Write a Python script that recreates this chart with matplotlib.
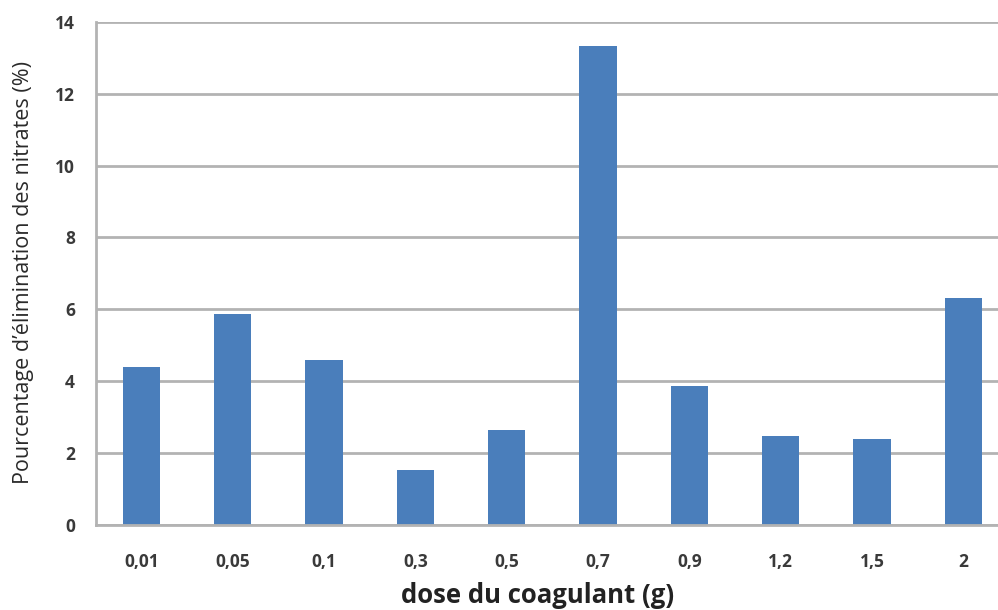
import matplotlib
matplotlib.use("Agg")
import matplotlib.pyplot as plt
import numpy as np

# dose du coagulant (g) and nitrate removal (%)
doses = ['0,01', '0,05', '0,1', '0,3', '0,5', '0,7', '0,9', '1,2', '1,5', '2']
elimination = [4.39, 5.87, 4.58, 1.52, 2.63, 13.33, 3.88, 2.49, 2.40, 6.31]
yticks = [0, 2, 4, 6, 8, 10, 12, 14]

plt.rcParams['font.family'] = ['Open Sans', 'DejaVu Sans']

fig = plt.figure(figsize=(9.98, 6.10), dpi=100)
ax = fig.add_axes([0.0959, 0.1393, 0.9041, 0.8251])

x = np.arange(len(doses))
ax.bar(x, elimination, width=0.41, color='#4a7ebb', zorder=3)

ax.set_ylim(0, 14)
ax.set_xlim(-0.5, 9.38)
ax.set_yticks(yticks)
ax.set_yticklabels([str(v) for v in yticks])
ax.set_xticks(x)
ax.set_xticklabels(doses)

ax.grid(axis='y', color='#b3b3b3', linewidth=2, zorder=0)
for side in ['top', 'right']:
    ax.spines[side].set_visible(False)
for side in ['left', 'bottom']:
    ax.spines[side].set_color('#b3b3b3')
    ax.spines[side].set_linewidth(2)
    ax.spines[side].set_zorder(4)

ax.tick_params(axis='both', length=0, labelsize=12.5, labelcolor='#3a3a3a')
ax.tick_params(axis='y', pad=15)
ax.tick_params(axis='x', pad=20)
for lab in ax.get_xticklabels() + ax.get_yticklabels():
    lab.set_fontweight('bold')

ax.set_xlabel('dose du coagulant (g)', fontsize=18.5, fontweight='bold',
              color='#222222')
ax.xaxis.set_label_coords(0.49, -0.113)
ax.set_ylabel("Pourcentage d\u2019élimination des nitrates (%)", fontsize=15.5,
              color='#2a2a2a')
ax.yaxis.set_label_coords(-0.068, 0.502)

fig.savefig('out.png', dpi=100)
